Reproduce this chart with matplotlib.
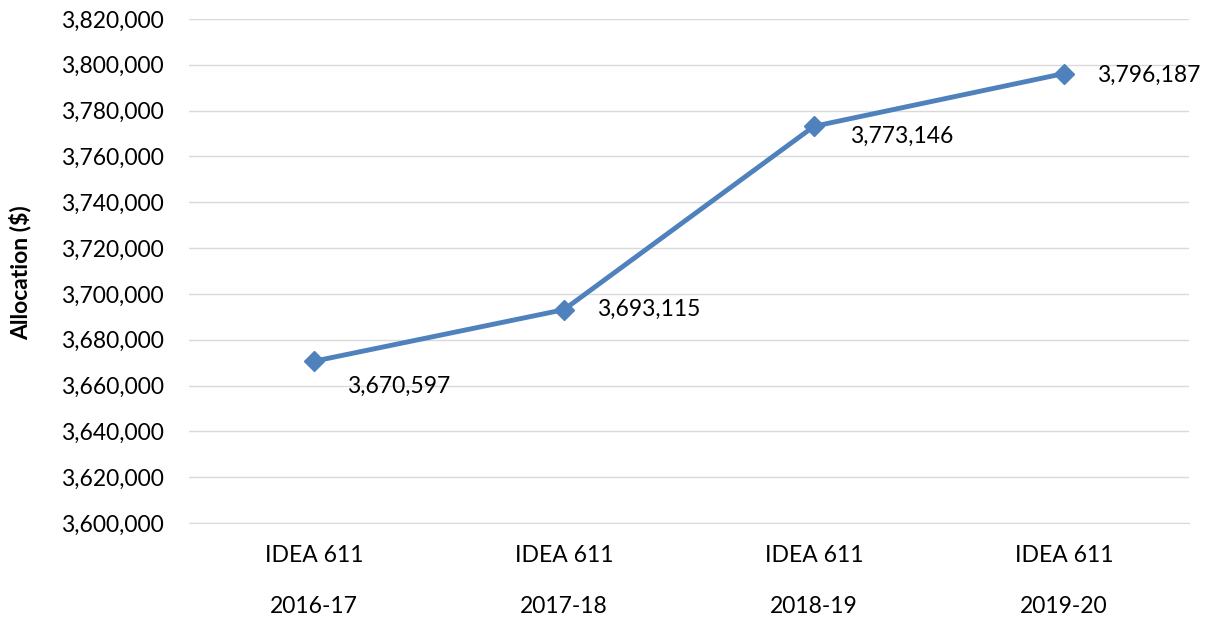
import matplotlib.pyplot as plt
import matplotlib.transforms as mtransforms
from matplotlib.ticker import FuncFormatter, MultipleLocator

plt.rcParams['font.family'] = ['Lato', 'DejaVu Sans']

programs = ["IDEA 611", "IDEA 611", "IDEA 611", "IDEA 611"]
years = ["2016-17", "2017-18", "2018-19", "2019-20"]
allocation = [3670597, 3693115, 3773146, 3796187]

# label offsets in points (Excel "right" data labels)
label_offsets = [(24, -18), (24, 0), (26, -7), (24, -1)]

fs = 16.5

fig = plt.figure(figsize=(12.16, 6.24), dpi=100)
ax = fig.add_axes([0.1554, 0.1619, 0.8224, 0.8077])

x = list(range(len(years)))
ax.plot(x, allocation, color='#4F81BD', linewidth=3.5, marker='D', markersize=10.5,
        markerfacecolor='#4F81BD', markeredgecolor='#4F81BD', zorder=3)

for xi, v, off in zip(x, allocation, label_offsets):
    ax.annotate(f"{v:,}", (xi, v), xytext=off, textcoords='offset points',
                ha='left', va='center', fontsize=fs, color='#000000')

ax.set_xlim(-0.5, 3.5)
ax.set_ylim(3600000, 3820000)
ax.yaxis.set_major_locator(MultipleLocator(20000))
ax.yaxis.set_major_formatter(FuncFormatter(lambda v, p: f"{int(v):,}"))
ax.grid(axis='y', color='#D9D9D9', linewidth=1)
ax.set_axisbelow(True)

for s in ['top', 'right', 'left']:
    ax.spines[s].set_visible(False)
ax.spines['bottom'].set_color('#D9D9D9')

ax.set_xticks(x)
ax.set_xticklabels(programs)
ax.tick_params(axis='x', length=0, pad=16, labelsize=fs)
ax.tick_params(axis='y', length=0, pad=18, labelsize=fs)

trans = mtransforms.blended_transform_factory(ax.transData, ax.transAxes)
for xi, yr in zip(x, years):
    ax.text(xi, -0.166, yr, transform=trans, ha='center', va='center', fontsize=fs)

fig.text(20 / 1216, 1 - 273 / 624, "Allocation ($)", rotation=90, ha='center', va='center',
         fontsize=fs, fontweight='bold')

fig.savefig('out.png', dpi=100)
